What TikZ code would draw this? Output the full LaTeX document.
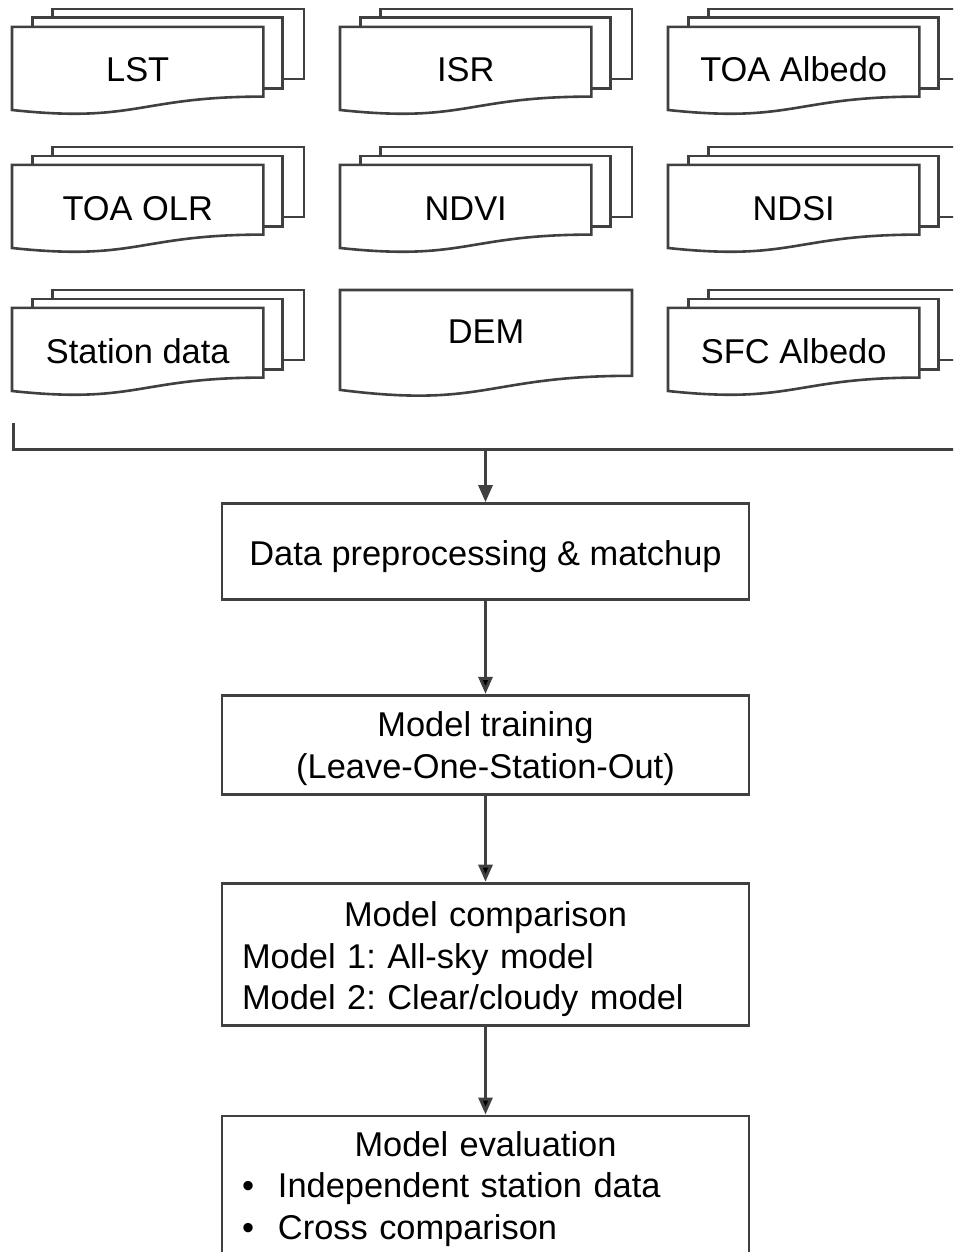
\documentclass[tikz,border=0pt]{standalone}
\usepackage{fontspec}
\setmainfont{Liberation Sans}
\usetikzlibrary{arrows.meta, positioning}

\definecolor{linegray}{HTML}{404040}
\frenchspacing

\tikzset{
    sheet/.style = {draw = linegray, fill = white, line width = 1.3pt},
    % three stacked sheets, the front one with a wavy bottom
    multidoc/.pic = {
        \draw[sheet] (40.2,0) rectangle (292,70);
        \draw[sheet] (20.7,8.8) rectangle (270.4,79.5);
        \draw[sheet] (0,101) .. controls (125.7,114.4) and (125.7,87.6) .. (251.4,87.6)
            -- (251.4,17.9) -- (0,17.9) -- cycle;
        \node[anchor = base] (-txt) at (125.7,73) {#1};
    },
    % one sheet with a wavy bottom
    singledoc/.pic = {
        \draw[sheet] (0,0) -- (292,0) -- (292,85.8)
            .. controls (146,85.8) and (146,118.5) .. (0,99.9) -- cycle;
        \node[anchor = base] (-txt) at (146,53) {#1};
    }
}

% invisible strut that gives the first line of a block more room above
\newcommand{\highstrut}[1]{\rule{0pt}{#1}}

\begin{document}
\begin{tikzpicture}[
            x = 0.5pt, y = -0.5pt, % pixel grid of the layout
            > = {Triangle[width = 7pt, length = 8.5pt]}, % arrow head style
            font = \fontsize{17.2pt}{20.75pt}\selectfont,
            line width = 1.3pt
        ]

        \tikzstyle{procbox}=[
            draw = linegray,
            line width = 1.4pt,
            minimum width = 263.5pt,
            inner xsep = 10pt,
            inner ysep = 4pt
        ]
        \tikzstyle{flow}=[draw = linegray, line width = 1.5pt]

        \useasboundingbox (0,0) rectangle (953,1252);
        \clip (0,0) rectangle (953,1252);

        % input data
        \pic (lst) at (12,9) {multidoc={LST}};
        \pic (isr) at (340,9) {multidoc={ISR}};
        \pic (toaalb) at (668,9) {multidoc={TOA Albedo}};

        \pic (olr) at (12,147) {multidoc={TOA OLR}};
        \pic (ndvi) at (340,147) {multidoc={NDVI}};
        \pic (ndsi) at (668,147) {multidoc={NDSI}};

        \pic (station) at (12,290) {multidoc={Station data}};
        \pic (dem) at (340,290) {singledoc={DEM}};
        \pic (sfcalb) at (668,290) {multidoc={SFC Albedo}};

        % processing chain
        \node[procbox, minimum height = 48pt, text height = 16pt, text depth = 2.5pt] (prep) at (485.5,551.5)
            {Data preprocessing \& matchup};
        \node[procbox, minimum height = 49.5pt, align = center] (train) [below = 46.5pt of prep]
            {\highstrut{16.5pt}Model training\\(Leave-One-Station-Out)};
        \node[procbox, minimum height = 71pt, text width = 243.5pt] (compare) [below = 43pt of train]
            {{\centering\highstrut{17.5pt}Model comparison\par}Model 1: All-sky model\\Model 2: Clear/cloudy model};
        \node[procbox, minimum height = 71pt, text width = 243.5pt] (evaluate) [below = 44pt of compare]
            {{\centering\highstrut{14.5pt}Model evaluation\par}\makebox[18pt][l]{\textbullet}Independent station data\\
            \makebox[18pt][l]{\textbullet}Cross comparison};

        % collecting bracket
        \coordinate (brk-top) at (13,423);
        \coordinate (brk-corner) at (13,449);
        \coordinate (brk-end) at (965,449);
        \coordinate (brk-mid) at (brk-corner -| prep.north);
        \draw[flow] (brk-top) -- (brk-corner) -- (brk-end);

        \draw[flow, ->] (brk-mid) -- (prep.north);
        \path[flow, ->] (prep) edge (train);
        \path[flow, ->] (train) edge (compare);
        \path[flow, ->] (compare) edge (evaluate);

    \end{tikzpicture}
\end{document}
